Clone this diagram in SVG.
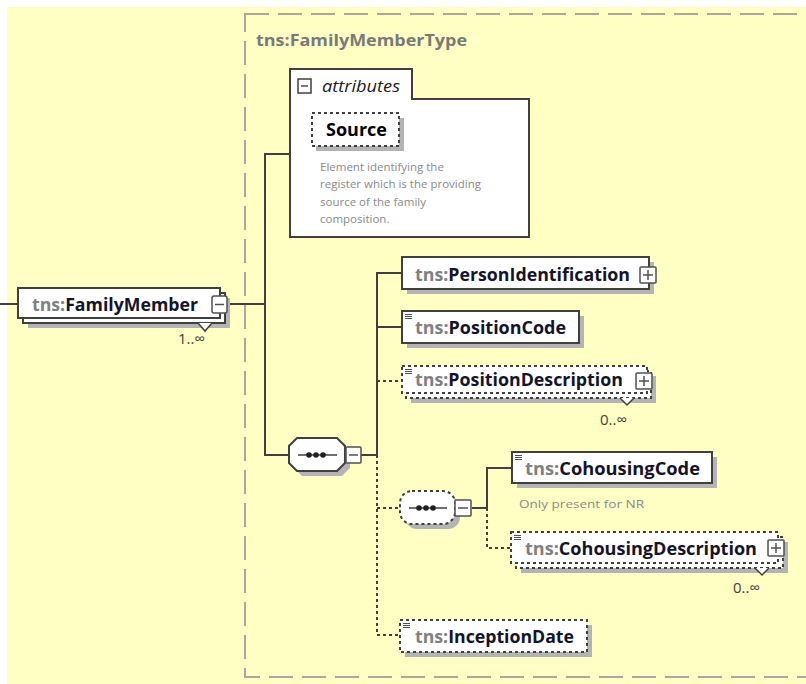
<svg xmlns="http://www.w3.org/2000/svg" width="806" height="684" viewBox="0 0 806 684">
<defs>
<style>
.lbl{font-family:"Open Sans","Noto Sans",sans-serif;font-weight:bold;font-size:17px;fill:#141428}
.ns{fill:#808080}
.note{font-family:"Open Sans","Noto Sans",sans-serif;font-size:11.5px;fill:#8a8a8a}
.card{font-family:"Open Sans","Noto Sans",sans-serif;font-size:15px;fill:#404040}
.box{fill:#fff;stroke:#404040;stroke-width:2}
.dbox{fill:#fff;stroke:#404040;stroke-width:2;stroke-dasharray:3 3}
.sh{fill:#b4b4b4}
.btn{fill:#fff;stroke:#505050;stroke-width:1.5}
.ln{stroke:#404040;stroke-width:2;fill:none}
.dln{stroke:#404040;stroke-width:2;fill:none;stroke-dasharray:3 3}
.ic{stroke:#505050;stroke-width:1;fill:none}
</style>
</defs>
<rect x="0" y="0" width="806" height="684" fill="#ffffff"/>
<rect x="7" y="7" width="799" height="677" fill="#ffffc4"/>

<g id="group-FamilyMemberType">
<rect x="245" y="14" width="600" height="663" fill="none" stroke="#a8a8a0" stroke-width="2" stroke-dasharray="24 9"/>
<text x="256" y="46" class="lbl" style="fill:#7a7a7a;font-size:16px" textLength="211" lengthAdjust="spacingAndGlyphs">tns:FamilyMemberType</text>
</g>

<g id="connectors">
<line x1="0" y1="304" x2="18" y2="304" class="ln"/>
<line x1="227" y1="304" x2="265" y2="304" class="ln"/>
<polyline points="290,154 265,154 265,455 289,455" class="ln"/>
<line x1="361" y1="455" x2="377" y2="455" class="ln"/>
<polyline points="402,273 377,273 377,455" class="ln"/>
<line x1="377" y1="327" x2="402" y2="327" class="ln"/>
<line x1="377" y1="381" x2="402" y2="381" class="dln"/>
<polyline points="377,455 377,635 400,635" class="dln"/>
<line x1="377" y1="508" x2="400" y2="508" class="dln"/>
<line x1="472" y1="508" x2="487" y2="508" class="ln"/>
<polyline points="512,468 487,468 487,508" class="ln"/>
<polyline points="487,508 487,548 511,548" class="dln"/>
</g>

<g id="node-FamilyMember">
<rect x="28" y="298" width="202" height="30" class="sh"/>
<rect x="23" y="293" width="202" height="30" class="box"/>
<polyline points="198,323 205,331 212,323" class="ln" style="stroke-width:1.5;fill:#fff"/>
<rect x="18" y="288" width="202" height="30" class="box"/>
<text x="32" y="311" class="lbl" textLength="166" lengthAdjust="spacingAndGlyphs"><tspan class="ns">tns:</tspan>FamilyMember</text>
<rect x="212" y="296" width="15" height="17" rx="2" class="btn"/>
<line x1="215" y1="304.5" x2="224" y2="304.5" class="ic" style="stroke-width:1.5"/>
<text x="178" y="344" class="card">1..∞</text>
</g>

<g id="node-attributes">
<polygon points="290,69 412,69 412,99 529,99 529,237 290,237" class="box"/>
<rect x="298" y="79" width="13" height="14" class="btn" style="stroke:#404040"/>
<line x1="301" y1="86" x2="308" y2="86" class="ic" style="stroke-width:1.5"/>
<text x="322" y="92" style="font-family:'Open Sans','Noto Sans',sans-serif;font-style:italic;font-size:16px;fill:#202020" textLength="78" lengthAdjust="spacingAndGlyphs">attributes</text>
</g>

<g id="node-Source">
<rect x="316" y="118" width="88" height="33" class="sh"/>
<rect x="312" y="113" width="87" height="33" class="dbox"/>
<text x="326" y="136" class="lbl" style="fill:#000" textLength="61" lengthAdjust="spacingAndGlyphs">Source</text>
<text class="note"><tspan x="320" y="171">Element identifying the</tspan><tspan x="320" y="188">register which is the providing</tspan><tspan x="320" y="206">source of the family</tspan><tspan x="320" y="223">composition.</tspan></text>
</g>

<g id="node-sequence">
<polygon points="302,443 342,443 350,451 350,468 342,476 302,476 294,468 294,451" class="sh"/>
<path d="M297,438 H337 L345,446 V463 L337,471 H297 L289,463 V446 Z" class="box"/>
<line x1="298" y1="455" x2="337" y2="455" class="ln" style="stroke-width:1.5"/>
<circle cx="309" cy="455" r="2.8" fill="#202020"/>
<circle cx="316" cy="455" r="2.8" fill="#202020"/>
<circle cx="323" cy="455" r="2.8" fill="#202020"/>
<rect x="346" y="447" width="15" height="16" rx="1" class="btn"/>
<line x1="349" y1="455" x2="358" y2="455" class="ic" style="stroke-width:1.5"/>
</g>

<g id="node-PersonIdentification">
<rect x="407" y="262" width="247" height="32" class="sh"/>
<rect x="402" y="257" width="247" height="32" class="box"/>
<text x="415" y="281" class="lbl" textLength="215" lengthAdjust="spacingAndGlyphs"><tspan class="ns">tns:</tspan>PersonIdentification</text>
<rect x="640" y="267" width="16" height="16" rx="1" class="btn"/>
<line x1="643" y1="275" x2="653" y2="275" class="ic" style="stroke-width:1.5"/>
<line x1="648" y1="270" x2="648" y2="280" class="ic" style="stroke-width:1.5"/>
</g>

<g id="node-PositionCode">
<rect x="407" y="316" width="177" height="32" class="sh"/>
<rect x="402" y="311" width="177" height="32" class="box"/>
<path d="M405,314.5 H412 M405,316.5 H412 M405,318.5 H412" class="ic"/>
<text x="415" y="334" class="lbl" textLength="151" lengthAdjust="spacingAndGlyphs"><tspan class="ns">tns:</tspan>PositionCode</text>
</g>

<g id="node-PositionDescription">
<rect x="411" y="376" width="245" height="27" class="sh"/>
<rect x="406" y="371" width="245" height="27" class="dbox"/>
<polyline points="620,398 627,405 634,398" class="ln" style="stroke-width:1.5;fill:#fff"/>
<rect x="402" y="366" width="245" height="27" class="dbox"/>
<path d="M405,369.5 H412 M405,371.5 H412 M405,373.5 H412" class="ic"/>
<text x="415" y="386" class="lbl" textLength="208" lengthAdjust="spacingAndGlyphs"><tspan class="ns">tns:</tspan>PositionDescription</text>
<rect x="636" y="373" width="16" height="16" rx="1" class="btn"/>
<line x1="639" y1="381" x2="649" y2="381" class="ic" style="stroke-width:1.5"/>
<line x1="644" y1="376" x2="644" y2="386" class="ic" style="stroke-width:1.5"/>
<text x="600" y="425" class="card">0..∞</text>
</g>

<g id="node-innerSequence">
<rect x="405" y="496" width="55" height="33" rx="12" class="sh"/>
<rect x="400" y="491" width="55" height="33" rx="12" class="dbox"/>
<line x1="409" y1="508" x2="447" y2="508" class="ln" style="stroke-width:1.5"/>
<circle cx="419" cy="508" r="2.8" fill="#202020"/>
<circle cx="426" cy="508" r="2.8" fill="#202020"/>
<circle cx="433" cy="508" r="2.8" fill="#202020"/>
<rect x="455" y="500" width="16" height="16" rx="1" class="btn"/>
<line x1="458" y1="508" x2="468" y2="508" class="ic" style="stroke-width:1.5"/>
</g>

<g id="node-CohousingCode">
<rect x="517" y="457" width="200" height="31" class="sh"/>
<rect x="512" y="452" width="200" height="31" class="box"/>
<path d="M515,455.5 H522 M515,457.5 H522 M515,459.5 H522" class="ic"/>
<text x="525" y="475" class="lbl" textLength="175" lengthAdjust="spacingAndGlyphs"><tspan class="ns">tns:</tspan>CohousingCode</text>
<text x="519" y="508" class="note" textLength="125" lengthAdjust="spacingAndGlyphs">Only present for NR</text>
</g>

<g id="node-CohousingDescription">
<rect x="521" y="542" width="267" height="31" class="sh"/>
<rect x="516" y="537" width="267" height="31" class="dbox"/>
<polyline points="755,568 762,575 769,568" class="ln" style="stroke-width:1.5;fill:#fff"/>
<rect x="511" y="532" width="267" height="31" class="dbox"/>
<path d="M514,535.5 H521 M514,537.5 H521 M514,539.5 H521" class="ic"/>
<text x="525" y="555" class="lbl" textLength="232" lengthAdjust="spacingAndGlyphs"><tspan class="ns">tns:</tspan>CohousingDescription</text>
<rect x="768" y="540" width="16" height="16" rx="1" class="btn"/>
<line x1="771" y1="548" x2="781" y2="548" class="ic" style="stroke-width:1.5"/>
<line x1="776" y1="543" x2="776" y2="553" class="ic" style="stroke-width:1.5"/>
<text x="733" y="593" class="card">0..∞</text>
</g>

<g id="node-InceptionDate">
<rect x="405" y="625" width="187" height="32" class="sh"/>
<rect x="400" y="620" width="187" height="32" class="dbox"/>
<path d="M403,623.5 H410 M403,625.5 H410 M403,627.5 H410" class="ic"/>
<text x="415" y="643" class="lbl" textLength="159" lengthAdjust="spacingAndGlyphs"><tspan class="ns">tns:</tspan>InceptionDate</text>
</g>
</svg>
